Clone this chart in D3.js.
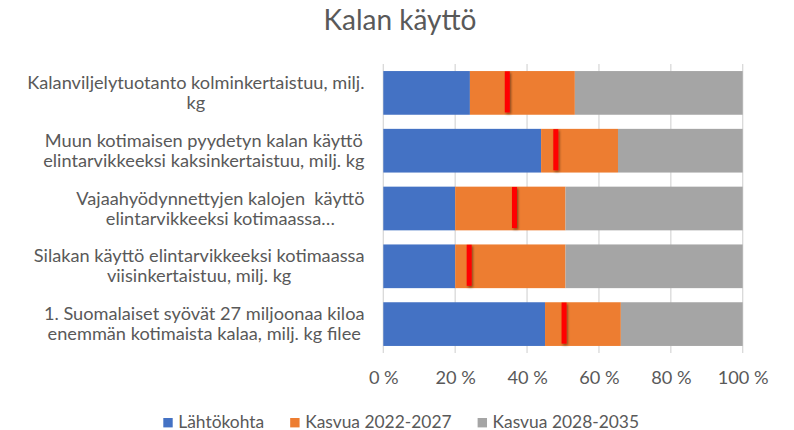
<!DOCTYPE html>
<html><head><meta charset="utf-8">
<script src="https://cdn.jsdelivr.net/npm/d3@7"></script>
<style>
body{margin:0;background:#fff}
svg text{font-family:Lato,'Noto Sans',sans-serif;fill:#595959;white-space:pre}
</style>
</head><body><svg id="c" width="794" height="430"></svg>
<script>
const title = "Kalan käyttö";
const categories = [
  ["Kalanviljelytuotanto kolminkertaistuu, milj.", "kg"],
  ["Muun kotimaisen pyydetyn kalan käyttö", "elintarvikkeeksi kaksinkertaistuu, milj. kg"],
  ["Vajaahyödynnettyjen kalojen  käyttö", "elintarvikkeeksi kotimaassa…"],
  ["Silakan käyttö elintarvikkeeksi kotimaassa", "viisinkertaistuu, milj. kg"],
  ["1. Suomalaiset syövät 27 miljoonaa kiloa", "enemmän kotimaista kalaa, milj. kg filee"]
];
const seriesNames = ["Lähtökohta", "Kasvua 2022-2027", "Kasvua 2028-2035"];
const lahtokohta = [24.1, 43.9, 20.0, 20.0, 45.0];
const kasvua2227 = [29.2, 21.4, 30.7, 30.7, 21.1];
const kasvua2835 = [46.7, 34.7, 49.3, 49.3, 33.9];
const tavoite    = [34.5, 48.0, 36.5, 23.9, 50.3];
const tickValues = [0, 20, 40, 60, 80, 100];
const tickLabels = ["0 %", "20 %", "40 %", "60 %", "80 %", "100 %"];
const colors = ["#4472C4", "#ED7D31", "#A5A5A5"];

const svg = d3.select("#c");
const FS = 18.2;
const LFS = 17.4;

const defs = svg.append("defs");
const f = defs.append("filter").attr("id","sh").attr("x","-100%").attr("y","-20%").attr("width","300%").attr("height","140%");
f.append("feDropShadow").attr("dx",1.2).attr("dy",1.5).attr("stdDeviation",1.3)
  .attr("flood-color","#000").attr("flood-opacity",0.45);

const x = d3.scaleLinear().domain([0, 100]).range([383.3, 742.7]);
const idx = d3.range(categories.length);
const y = d3.scaleBand().domain(idx).range([64, 353]).paddingInner(0.244).paddingOuter(0.122);

// title
svg.append("text").attr("x", 400).attr("y", 29.5).attr("text-anchor","middle")
  .style("font-size","28px").text(title);

// gridlines
svg.append("g").selectAll("line").data(tickValues).join("line")
  .attr("x1", d => x(d)).attr("x2", d => x(d))
  .attr("y1", 64).attr("y2", 353)
  .attr("stroke", "#D9D9D9").attr("stroke-width", 1.3);

// stacked bars
const rows = idx.map(i => ({i, v: [lahtokohta[i], kasvua2227[i], kasvua2835[i]]}));
const stack = d3.stack().keys([0,1,2]).value((d, k) => d.v[k]);
const layers = stack(rows);
svg.append("g").selectAll("g").data(layers).join("g")
  .attr("fill", (d, k) => colors[k])
  .selectAll("rect").data(d => d).join("rect")
  .attr("x", d => x(d[0])).attr("width", d => x(d[1]) - x(d[0]))
  .attr("y", d => y(d.data.i)).attr("height", y.bandwidth());

// target markers
svg.append("g").selectAll("rect").data(tavoite).join("rect")
  .attr("x", d => x(d) - 2.5).attr("width", 5)
  .attr("y", (d, i) => y(i) + y.bandwidth()/2 - 1 - y.bandwidth()*0.47)
  .attr("height", y.bandwidth()*0.94)
  .attr("fill", "#FF0000").attr("filter","url(#sh)");

// x tick labels
const xAxis = d3.axisBottom(x).tickValues(tickValues).tickFormat((d, i) => tickLabels[i]).tickSize(0).tickPadding(0);
const ax = svg.append("g").attr("transform", "translate(0,353)").call(xAxis);
ax.select(".domain").remove();
ax.selectAll("text").attr("dy", null)
  .attr("y", 31).attr("fill", null).style("font-size", FS + "px").style("font-family","Lato");

// category labels
const lh = 20;
const lg = svg.append("g");
idx.forEach(i => {
  const lines = categories[i];
  const cy = y(i) + y.bandwidth()/2;
  const tmp = lines.map(s => lg.append("text").style("font-size", FS + "px").text(s));
  const widths = tmp.map(t => t.node().getComputedTextLength());
  const maxW = d3.max(widths);
  const right = 364.5;
  const cx = right - maxW/2;
  const n = lines.length;
  tmp.forEach((t, j) => {
    t.attr("x", cx).attr("text-anchor","middle")
     .attr("y", cy + (j - (n-1)/2) * lh + FS*0.33);
  });
});

// legend
const leg = svg.append("g");
const items = seriesNames.map((s, k) => {
  const g = leg.append("g");
  g.append("rect").attr("width", 9.4).attr("height", 9.4).attr("y", 418).attr("fill", colors[k]);
  const t = g.append("text").attr("x", 15).attr("y", 427.5).style("font-size", LFS + "px").text(s);
  return {g, w: 15 + t.node().getComputedTextLength()};
});
const gap = 26;
let cx0 = 163.3;
items.forEach(it => { it.g.attr("transform", `translate(${cx0},0)`); cx0 += it.w + gap; });
</script></body></html>
